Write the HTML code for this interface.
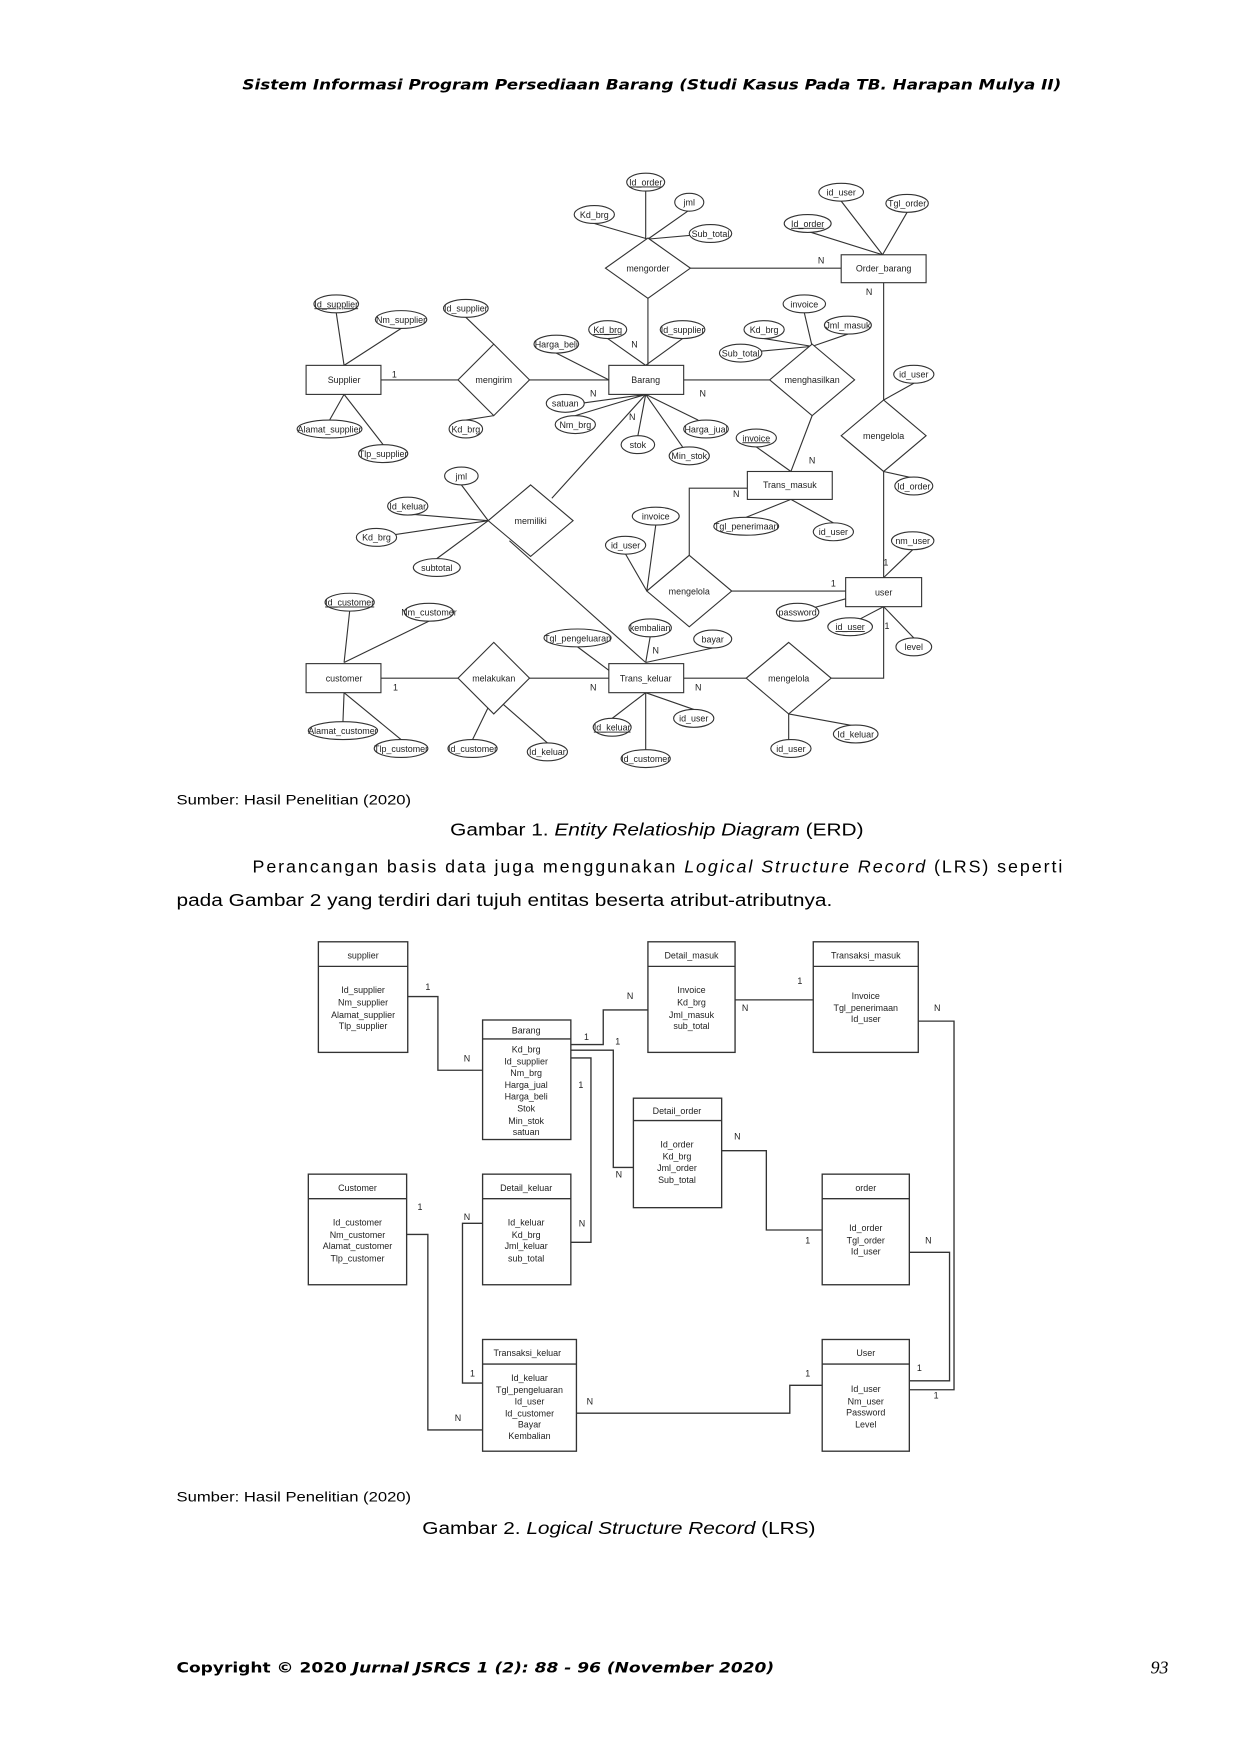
<!DOCTYPE html>
<html><head><meta charset="utf-8"><style>
html,body{margin:0;padding:0;background:#fff}
svg{display:block}
.e text{font-family:"Liberation Sans",sans-serif;font-size:8px;text-anchor:middle;fill:#222}
.t{font-family:"Liberation Sans",sans-serif;fill:#000}
</style></head><body>
<svg width="1240" height="1754" viewBox="0 0 1110 1570" xmlns="http://www.w3.org/2000/svg">
<rect width="1110" height="1570" fill="#fff"/>
<text x="217" y="80" font-family="DejaVu Sans,sans-serif" font-weight="bold" font-style="italic" font-size="13" textLength="733" lengthAdjust="spacingAndGlyphs">Sistem Informasi Program Persediaan Barang (Studi Kasus Pada TB. Harapan Mulya II)</text>

<g class="e" stroke="#333" stroke-width="1" fill="none">
<!-- lines ERD -->
<path d="M578,171V214M617,188L580,214M532,200L580,214M636,209L580,214M580,214V267M580,267V327M618,240H753"/>
<path d="M753,180L790,228M812,190L790,228M723,207L790,228M791,253V358M791,422V517"/>
<path d="M301,280L308,327M359,294L308,327M308,353L295,376M308,353L343,398"/>
<path d="M341,340H410M474,340H545M417,284L442,308M417,376L442,372"/>
<path d="M498,316L545,340M544,303L578,327M611,303L578,327"/>
<path d="M578,353L520,361M578,353L515,372M578,353L571,390M578,353L625,376M578,353L611,400"/>
<path d="M612,340H689M720,280L727,310M759,299L727,310M684,303L727,310M663,316L727,310"/>
<path d="M727,372L708,422M677,400L708,422M708,447L668,463M708,447L746,468M818,343L791,358M791,422L818,428"/>
<path d="M578,353L494,446M456,484L578,593M413,434L437,466M365,460L437,466M337,481L437,466M391,500L437,466"/>
<path d="M617,497V437H669M579,529H825M587,470L579,529M560,496L579,529"/>
<path d="M791,517L817,492M757,536L714,548M791,543L768,555M791,543L818,571"/>
<path d="M313,547L308,593M384,556L308,593M308,620L307,646M308,620L359,662"/>
<path d="M341,607H410M474,607H545M423,662L442,623M490,665L442,623"/>
<path d="M517,579L545,600M582,570L578,593M638,580L578,593"/>
<path d="M578,620L548,643M578,620V671M578,620L621,635M612,607H668M744,607H791V543M706,639V662M706,639L766,650"/>
</g>
<g class="e" stroke="#333" stroke-width="1" fill="#fff">
<!-- diamonds -->
<polygon points="580,213 618,240 580,267 542,240"/>
<polygon points="442,308 474,340 442,372 410,340"/>
<polygon points="727,308 765,340 727,372 689,340"/>
<polygon points="791,358 829,390 791,422 753,390"/>
<polygon points="475,434 513,466 475,498 437,466"/>
<polygon points="617,497 655,529 617,561 579,529"/>
<polygon points="442,575 474,607 442,639 410,607"/>
<polygon points="706,575 744,607 706,639 668,607"/>
<!-- entities -->
<rect x="753" y="228" width="76" height="25"/>
<rect x="274" y="327" width="67" height="26"/>
<rect x="545" y="327" width="67" height="26"/>
<rect x="669" y="422" width="76" height="25"/>
<rect x="757" y="517" width="68" height="26"/>
<rect x="274" y="594" width="67" height="26"/>
<rect x="545" y="594" width="67" height="26"/>
<!-- ellipses -->
<ellipse cx="578" cy="163" rx="17" ry="8"/><ellipse cx="617" cy="181" rx="13" ry="8"/>
<ellipse cx="532" cy="192" rx="18" ry="8"/><ellipse cx="636" cy="209" rx="19" ry="8"/>
<ellipse cx="753" cy="172" rx="20" ry="8"/><ellipse cx="812" cy="182" rx="19" ry="8"/>
<ellipse cx="723" cy="200" rx="21" ry="8"/>
<ellipse cx="301" cy="272" rx="20" ry="8"/><ellipse cx="359" cy="286" rx="23" ry="8"/>
<ellipse cx="295" cy="384" rx="29" ry="8"/><ellipse cx="343" cy="406" rx="22" ry="8"/>
<ellipse cx="417" cy="276" rx="20" ry="8"/><ellipse cx="417" cy="384" rx="15" ry="8"/>
<ellipse cx="498" cy="308" rx="20" ry="8"/><ellipse cx="544" cy="295" rx="17" ry="8"/>
<ellipse cx="611" cy="295" rx="20" ry="8"/><ellipse cx="506" cy="361" rx="17" ry="8"/>
<ellipse cx="515" cy="380" rx="18" ry="8"/><ellipse cx="571" cy="398" rx="15" ry="8"/>
<ellipse cx="632" cy="384" rx="20" ry="8"/><ellipse cx="617" cy="408" rx="18" ry="8"/>
<ellipse cx="720" cy="272" rx="19" ry="8"/><ellipse cx="759" cy="291" rx="21" ry="8"/>
<ellipse cx="684" cy="295" rx="18" ry="8"/><ellipse cx="663" cy="316" rx="19" ry="8"/>
<ellipse cx="818" cy="335" rx="18" ry="8"/><ellipse cx="818" cy="435" rx="17" ry="8"/>
<ellipse cx="677" cy="392" rx="18" ry="8"/><ellipse cx="668" cy="471" rx="29" ry="8"/>
<ellipse cx="746" cy="476" rx="18" ry="8"/>
<ellipse cx="413" cy="426" rx="15" ry="8"/><ellipse cx="365" cy="453" rx="18" ry="8"/>
<ellipse cx="337" cy="481" rx="18" ry="8"/><ellipse cx="391" cy="508" rx="21" ry="8"/>
<ellipse cx="587" cy="462" rx="21" ry="8"/><ellipse cx="560" cy="488" rx="18" ry="8"/>
<ellipse cx="817" cy="484" rx="19" ry="8"/><ellipse cx="714" cy="548" rx="19" ry="8"/>
<ellipse cx="761" cy="561" rx="20" ry="8"/><ellipse cx="818" cy="579" rx="16" ry="8"/>
<ellipse cx="313" cy="539" rx="22" ry="8"/><ellipse cx="384" cy="548" rx="22" ry="8"/>
<ellipse cx="307" cy="654" rx="31" ry="8"/><ellipse cx="359" cy="670" rx="24" ry="8"/>
<ellipse cx="423" cy="670" rx="22" ry="8"/><ellipse cx="490" cy="673" rx="18" ry="8"/>
<ellipse cx="517" cy="571" rx="30" ry="8"/><ellipse cx="582" cy="562" rx="19" ry="8"/>
<ellipse cx="638" cy="572" rx="17" ry="8"/><ellipse cx="548" cy="651" rx="17" ry="8"/>
<ellipse cx="621" cy="643" rx="18" ry="8"/><ellipse cx="578" cy="679" rx="22" ry="8"/>
<ellipse cx="708" cy="670" rx="18" ry="8"/><ellipse cx="766" cy="657" rx="20" ry="8"/>
</g>
<g class="e">
<text x="580" y="243">mengorder</text><text x="442" y="343">mengirim</text>
<text x="727" y="343">menghasilkan</text><text x="791" y="393">mengelola</text>
<text x="475" y="469">memiliki</text><text x="617" y="532">mengelola</text>
<text x="442" y="610">melakukan</text><text x="706" y="610">mengelola</text>
<text x="791" y="243">Order_barang</text><text x="308" y="343">Supplier</text>
<text x="578" y="343">Barang</text><text x="707" y="437">Trans_masuk</text>
<text x="791" y="533">user</text><text x="308" y="610">customer</text>
<text x="578" y="610">Trans_keluar</text>
<text x="578" y="166" text-decoration="underline">Id_order</text><text x="617" y="184">jml</text>
<text x="532" y="195">Kd_brg</text><text x="636" y="212">Sub_total</text>
<text x="753" y="175">id_user</text><text x="812" y="185">Tgl_order</text>
<text x="723" y="203" text-decoration="underline">Id_order</text>
<text x="301" y="275" text-decoration="underline">Id_supplier</text><text x="359" y="289">Nm_supplier</text>
<text x="295" y="387">Alamat_supplier</text><text x="343" y="409">Tlp_supplier</text>
<text x="417" y="279">Id_supplier</text><text x="417" y="387">Kd_brg</text>
<text x="498" y="311">Harga_beli</text><text x="544" y="298" text-decoration="underline">Kd_brg</text>
<text x="611" y="298">Id_supplier</text><text x="506" y="364">satuan</text>
<text x="515" y="383">Nm_brg</text><text x="571" y="401">stok</text>
<text x="632" y="387">Harga_jual</text><text x="617" y="411">Min_stok</text>
<text x="720" y="275">invoice</text><text x="759" y="294">Jml_masuk</text>
<text x="684" y="298">Kd_brg</text><text x="663" y="319">Sub_total</text>
<text x="818" y="338">id_user</text><text x="818" y="438">Id_order</text>
<text x="677" y="395" text-decoration="underline">invoice</text><text x="668" y="474">Tgl_penerimaan</text>
<text x="746" y="479">id_user</text>
<text x="413" y="429">jml</text><text x="365" y="456">Id_keluar</text>
<text x="337" y="484">Kd_brg</text><text x="391" y="511">subtotal</text>
<text x="587" y="465">invoice</text><text x="560" y="491">id_user</text>
<text x="817" y="487">nm_user</text><text x="714" y="551">password</text>
<text x="761" y="564" text-decoration="underline">id_user</text><text x="818" y="582">level</text>
<text x="313" y="542" text-decoration="underline">Id_customer</text><text x="384" y="551">Nm_customer</text>
<text x="307" y="657">Alamat_customer</text><text x="359" y="673">Tlp_customer</text>
<text x="423" y="673">Id_customer</text><text x="490" y="676">Id_keluar</text>
<text x="517" y="574">Tgl_pengeluaran</text><text x="582" y="565">kembalian</text>
<text x="638" y="575">bayar</text><text x="548" y="654" text-decoration="underline">Id_keluar</text>
<text x="621" y="646">id_user</text><text x="578" y="682">Id_customer</text>
<text x="708" y="673">id_user</text><text x="766" y="660">Id_keluar</text>
<text x="735" y="236">N</text><text x="778" y="264">N</text><text x="353" y="338">1</text>
<text x="568" y="311">N</text><text x="531" y="355">N</text><text x="566" y="376">N</text><text x="629" y="355">N</text>
<text x="727" y="415">N</text><text x="659" y="445">N</text>
<text x="793" y="506">1</text><text x="746" y="525">1</text><text x="794" y="563">1</text>
<text x="354" y="618">1</text><text x="531" y="618">N</text><text x="625" y="618">N</text><text x="587" y="585">N</text>
</g>

<text class="t" x="158" y="720" font-size="12" textLength="210" lengthAdjust="spacingAndGlyphs">Sumber: Hasil Penelitian (2020)</text>
<text class="t" x="403" y="748" font-size="16" textLength="370" lengthAdjust="spacingAndGlyphs">Gambar 1. <tspan font-style="italic">Entity Relatioship Diagram</tspan> (ERD)</text>
<text class="t" x="226" y="781" font-size="16" textLength="725" lengthAdjust="spacing">Perancangan basis data juga menggunakan <tspan font-style="italic">Logical Structure Record</tspan> (LRS) seperti</text>
<text class="t" x="158" y="811" font-size="16" textLength="587" lengthAdjust="spacingAndGlyphs">pada Gambar 2 yang terdiri dari tujuh entitas beserta atribut-atributnya.</text>

<!-- LRS -->
<g class="e" stroke="#333" stroke-width="1.2" fill="none">
<path d="M365,892H392V958H432M511,935H540V904H580M511,940H549V1045H567M511,947H529V1112H511"/>
<path d="M658,895H728M646,1030H686V1101H736M432,1095H414V1238H432M364,1105H383V1280H432"/>
<path d="M516,1265H707V1240H736M814,1121H850V1236H814M822,914H854V1244H814"/>
<rect x="285" y="843" width="80" height="99"/><path d="M285,865H365"/>
<rect x="432" y="913" width="79" height="107"/><path d="M432,930H511"/>
<rect x="580" y="843" width="78" height="99"/><path d="M580,865H658"/>
<rect x="728" y="843" width="94" height="99"/><path d="M728,865H822"/>
<rect x="567" y="983" width="79" height="98"/><path d="M567,1003H646"/>
<rect x="276" y="1051" width="88" height="99"/><path d="M276,1073H364"/>
<rect x="432" y="1051" width="79" height="99"/><path d="M432,1073H511"/>
<rect x="736" y="1051" width="78" height="99"/><path d="M736,1073H814"/>
<rect x="432" y="1199" width="84" height="100"/><path d="M432,1221H516"/>
<rect x="736" y="1199" width="78" height="100"/><path d="M736,1221H814"/>
</g>
<g class="e">
<text x="325" y="858">supplier</text><text x="325" y="889">Id_supplier</text><text x="325" y="900">Nm_supplier</text><text x="325" y="911">Alamat_supplier</text><text x="325" y="921">Tlp_supplier</text>
<text x="471" y="925">Barang</text><text x="471" y="942">Kd_brg</text><text x="471" y="953">Id_supplier</text><text x="471" y="963">Nm_brg</text><text x="471" y="974">Harga_jual</text><text x="471" y="984">Harga_beli</text><text x="471" y="995">Stok</text><text x="471" y="1006">Min_stok</text><text x="471" y="1016">satuan</text>
<text x="619" y="858">Detail_masuk</text><text x="619" y="889">Invoice</text><text x="619" y="900">Kd_brg</text><text x="619" y="911">Jml_masuk</text><text x="619" y="921">sub_total</text>
<text x="775" y="858">Transaksi_masuk</text><text x="775" y="894">Invoice</text><text x="775" y="905">Tgl_penerimaan</text><text x="775" y="915">Id_user</text>
<text x="606" y="997">Detail_order</text><text x="606" y="1027">Id_order</text><text x="606" y="1038">Kd_brg</text><text x="606" y="1048">Jml_order</text><text x="606" y="1059">Sub_total</text>
<text x="320" y="1066">Customer</text><text x="320" y="1097">Id_customer</text><text x="320" y="1108">Nm_customer</text><text x="320" y="1118">Alamat_customer</text><text x="320" y="1129">Tlp_customer</text>
<text x="471" y="1066">Detail_keluar</text><text x="471" y="1097">Id_keluar</text><text x="471" y="1108">Kd_brg</text><text x="471" y="1118">Jml_keluar</text><text x="471" y="1129">sub_total</text>
<text x="775" y="1066">order</text><text x="775" y="1102">Id_order</text><text x="775" y="1113">Tgl_order</text><text x="775" y="1123">Id_user</text>
<text x="472" y="1214">Transaksi_keluar</text><text x="474" y="1236">Id_keluar</text><text x="474" y="1247">Tgl_pengeluaran</text><text x="474" y="1257">Id_user</text><text x="474" y="1268">Id_customer</text><text x="474" y="1278">Bayar</text><text x="474" y="1288">Kembalian</text>
<text x="775" y="1214">User</text><text x="775" y="1246">Id_user</text><text x="775" y="1257">Nm_user</text><text x="775" y="1267">Password</text><text x="775" y="1278">Level</text>
<text x="383" y="886">1</text><text x="418" y="950">N</text><text x="525" y="931">1</text><text x="553" y="935">1</text><text x="520" y="974">1</text>
<text x="564" y="894">N</text><text x="667" y="905">N</text><text x="716" y="881">1</text><text x="839" y="905">N</text>
<text x="660" y="1020">N</text><text x="554" y="1054">N</text><text x="723" y="1113">1</text><text x="831" y="1113">N</text>
<text x="376" y="1083">1</text><text x="418" y="1092">N</text><text x="521" y="1098">N</text>
<text x="423" y="1232">1</text><text x="410" y="1272">N</text><text x="528" y="1257">N</text><text x="723" y="1232">1</text><text x="823" y="1227">1</text><text x="838" y="1252">1</text>
</g>

<text class="t" x="158" y="1344" font-size="12" textLength="210" lengthAdjust="spacingAndGlyphs">Sumber: Hasil Penelitian (2020)</text>
<text class="t" x="378" y="1373" font-size="16" textLength="352" lengthAdjust="spacingAndGlyphs">Gambar 2. <tspan font-style="italic">Logical Structure Record</tspan> (LRS)</text>
<text x="158" y="1497" font-family="DejaVu Sans,sans-serif" font-weight="bold" font-size="13" textLength="535" lengthAdjust="spacingAndGlyphs">Copyright © 2020 <tspan font-style="italic">Jurnal JSRCS 1 (2): 88 - 96 (November 2020)</tspan></text>
<text x="1030" y="1498" font-family="Liberation Serif,serif" font-style="italic" font-size="16">93</text>
</svg>
</body></html>
